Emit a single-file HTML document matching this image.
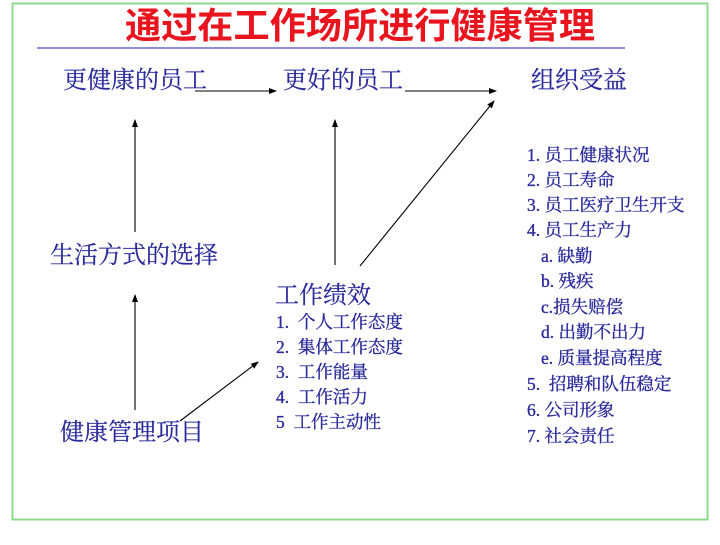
<!DOCTYPE html>
<html><head><meta charset="utf-8"><style>
body{margin:0;background:#fff;width:720px;height:540px;overflow:hidden}
svg text{font-family:"Liberation Serif","Noto Serif CJK SC",serif;fill:#2a2a9c;white-space:pre}
</style></head><body>
<svg width="720" height="540" xmlns="http://www.w3.org/2000/svg" xml:space="preserve">
<defs><marker id="a" markerWidth="8" markerHeight="8" refX="7" refY="4" orient="auto" markerUnits="userSpaceOnUse"><path d="M0,1 L8,4 L0,7 z" fill="#000"/></marker></defs>
<rect x="12.5" y="3.5" width="695" height="516" fill="none" stroke="#8fd98f" stroke-width="2"/>
<text x="360" y="38" text-anchor="middle" textLength="470" lengthAdjust="spacingAndGlyphs" style="font-family:'Liberation Sans','Noto Sans CJK SC',sans-serif;fill:#e8141e;font-weight:bold" font-size="36">通过在工作场所进行健康管理</text>
<line x1="37" y1="48" x2="625" y2="48" stroke="#4a4ac0" stroke-width="1.2"/>
<g font-size="24" stroke="#2a2a9c" stroke-width="0.2">
<text x="63" y="88">更健康的员工</text>
<text x="283" y="88">更好的员工</text>
<text x="531" y="88">组织受益</text>
<text x="50" y="263">生活方式的选择</text>
<text x="275" y="303">工作绩效</text>
<text x="60" y="440">健康管理项目</text>
</g>
<g stroke="#000" stroke-width="1.1" marker-end="url(#a)">
<line x1="195" y1="91" x2="276" y2="91"/>
<line x1="405" y1="91" x2="496" y2="91"/>
<line x1="360" y1="266" x2="494" y2="101"/>
<line x1="135" y1="232" x2="135" y2="120"/>
<line x1="335" y1="265" x2="335" y2="120"/>
<line x1="135" y1="410" x2="135" y2="295"/>
<line x1="180" y1="421" x2="258" y2="362"/>
</g>
<g font-size="17.5" stroke="#2a2a9c" stroke-width="0.35">
<text x="276" y="328">1.  个人工作态度</text>
<text x="276" y="353">2.  集体工作态度</text>
<text x="276" y="378">3.  工作能量</text>
<text x="276" y="403">4.  工作活力</text>
<text x="276" y="428">5  工作主动性</text>
<text x="527" y="161">1. 员工健康状况</text>
<text x="527" y="186">2. 员工寿命</text>
<text x="527" y="211">3. 员工医疗卫生开支</text>
<text x="527" y="236">4. 员工生产力</text>
<text x="541" y="262">a. 缺勤</text>
<text x="541" y="287">b. 残疾</text>
<text x="541" y="313">c.损失赔偿</text>
<text x="541" y="338">d. 出勤不出力</text>
<text x="541" y="364">e. 质量提高程度</text>
<text x="527" y="390">5.  招聘和队伍稳定</text>
<text x="527" y="416">6. 公司形象</text>
<text x="527" y="442">7. 社会责任</text>
</g>
</svg>
</body></html>
